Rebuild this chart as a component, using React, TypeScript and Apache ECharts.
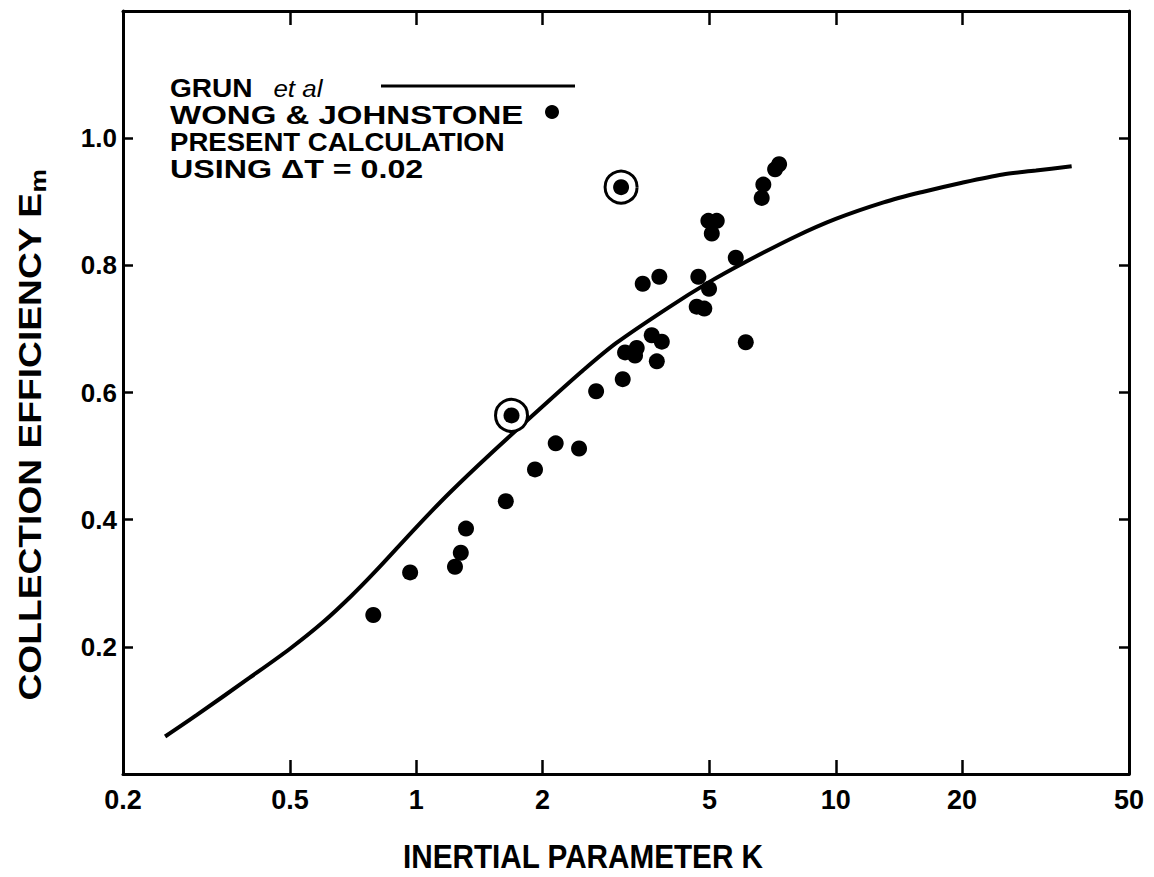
import React, { useEffect, useRef } from "react";
import * as echarts from "echarts";

// Axis tick values
const xTicks = [0.2, 0.5, 1, 2, 5, 10, 20, 50];
const yTicks = [0.2, 0.4, 0.6, 0.8, 1.0];

// GRUN et al curve (inertial parameter K, collection efficiency Em)
const grunK = [0.252, 0.3, 0.4, 0.5, 0.6, 0.7, 0.8, 1.0, 1.2, 1.5, 2.0, 2.5, 3.0, 4.0, 5.0, 6.0, 8.0, 10, 13, 16, 20, 25, 30, 36.5];
const grunE = [0.059, 0.093, 0.151, 0.197, 0.239, 0.28, 0.319, 0.388, 0.442, 0.503, 0.578, 0.635, 0.678, 0.734, 0.774, 0.803, 0.845, 0.873, 0.899, 0.915, 0.93, 0.943, 0.949, 0.956];

// WONG & JOHNSTONE points
const wongK = [0.79, 0.967, 1.237, 1.277, 1.314, 1.635, 1.687, 1.919, 2.15, 2.444, 2.684, 3.106, 3.146, 3.354, 3.323, 3.745, 3.642, 3.849, 3.466, 3.797, 3.078, 4.704, 4.988, 4.662, 4.86, 5.776, 6.102, 4.97, 5.204, 5.064, 6.66, 6.72, 7.168, 7.328];
const wongE = [0.25, 0.317, 0.326, 0.348, 0.386, 0.429, 0.564, 0.479, 0.52, 0.512, 0.602, 0.621, 0.663, 0.67, 0.658, 0.649, 0.69, 0.68, 0.771, 0.782, 0.923, 0.782, 0.763, 0.735, 0.732, 0.812, 0.679, 0.87, 0.87, 0.85, 0.906, 0.927, 0.951, 0.959];

// Present calculation (circled points)
const presentK = [1.687, 3.078];
const presentE = [0.564, 0.923];

const FONT = "'Liberation Sans', Arial, sans-serif";

export default function App() {
  const ref = useRef<HTMLDivElement>(null);
  useEffect(() => {
    if (!ref.current) return;
    const chart = echarts.init(ref.current, undefined, { renderer: "svg" });
    const axisLine = { show: true, onZero: false, lineStyle: { color: "#000", width: 3 } };
    const tickStyle = { color: "#000", width: 2.5 };
    const xBase = {
      type: "log" as const,
      logBase: 10,
      min: 0.2,
      max: 50,
      axisLine,
      splitLine: { show: false },
      minorTick: { show: false },
    };
    const yBase = {
      type: "value" as const,
      min: 0,
      max: 1.2,
      axisLine,
      splitLine: { show: false },
    };
    const legendText = (text: string, y: number, sx: number) => ({
      type: "text",
      x: 170,
      y,
      scaleX: sx,
      style: {
        text,
        fill: "#000",
        font: `bold 26px ${FONT}`,
        lineHeight: 22,
        align: "left",
        verticalAlign: "middle",
      },
    });
    chart.setOption({
      animation: false,
      backgroundColor: "#fff",
      grid: { left: 123, right: 25, top: 11, bottom: 103, containLabel: false },
      xAxis: [
        {
          ...xBase,
          position: "bottom",
          axisTick: { show: true, inside: true, length: 14, customValues: xTicks, lineStyle: tickStyle },
          axisLabel: {
            show: true,
            customValues: xTicks,
            formatter: (v: number) => String(v),
            color: "#000",
            fontSize: 27,
            fontWeight: "bold",
            fontFamily: FONT,
            margin: 12,
          },
        },
        {
          ...xBase,
          position: "top",
          axisTick: { show: true, inside: true, length: 14, customValues: xTicks, lineStyle: tickStyle },
          axisLabel: { show: false },
        },
      ],
      yAxis: [
        {
          ...yBase,
          position: "left",
          axisTick: { show: true, inside: true, length: 10, customValues: yTicks, lineStyle: tickStyle },
          axisLabel: {
            show: true,
            customValues: yTicks,
            formatter: (v: number) => v.toFixed(1),
            color: "#000",
            fontSize: 26,
            fontWeight: "bold",
            fontFamily: FONT,
            margin: 6,
          },
        },
        {
          ...yBase,
          position: "right",
          axisTick: { show: true, inside: true, length: 10, customValues: yTicks, lineStyle: tickStyle },
          axisLabel: { show: false },
        },
      ],
      series: [
        {
          type: "line",
          data: grunK.map((k, i) => [k, grunE[i]]),
          smooth: 0.3,
          showSymbol: false,
          lineStyle: { color: "#000", width: 4 },
          z: 2,
        },
        {
          type: "scatter",
          data: presentK.map((k, i) => [k, presentE[i]]),
          symbol: "circle",
          symbolSize: 32,
          itemStyle: { color: "#fff", borderColor: "#000", borderWidth: 3, opacity: 1 },
          z: 3,
        },
        {
          type: "scatter",
          data: wongK.map((k, i) => [k, wongE[i]]),
          symbol: "circle",
          symbolSize: 16,
          itemStyle: { color: "#000", opacity: 1 },
          z: 4,
        },
      ],
      graphic: [
        {
          type: "text",
          x: 170,
          y: 88,
          scaleX: 1.08,
          style: {
            text: "GRUN {i|et al}",
            fill: "#000",
            font: `bold 26px ${FONT}`,
            lineHeight: 22,
            align: "left",
            verticalAlign: "middle",
            rich: {
              i: { fontStyle: "italic", fontWeight: "normal", fontSize: 24, fontFamily: FONT, fill: "#000", lineHeight: 22, padding: [0, 0, 0, 12] },
            },
          },
        },
        {
          type: "line",
          shape: { x1: 381, y1: 86, x2: 575, y2: 86 },
          style: { stroke: "#000", lineWidth: 3 },
        },
        legendText("WONG & JOHNSTONE", 115, 1.27),
        {
          type: "circle",
          shape: { cx: 552, cy: 112, r: 7 },
          style: { fill: "#000" },
        },
        legendText("PRESENT CALCULATION", 142, 1.06),
        legendText("USING ΔT = 0.02", 169, 1.24),
        {
          type: "text",
          x: 30,
          y: 435,
          rotation: Math.PI / 2,
          scaleX: 1.2,
          style: {
            text: "COLLECTION EFFICIENCY E{m|m}",
            fill: "#000",
            font: `bold 31px ${FONT}`,
            align: "center",
            verticalAlign: "middle",
            rich: { m: { fontSize: 22, fontWeight: "bold", fontFamily: FONT, fill: "#000", padding: [16, 0, 0, 0] } },
          },
        },
        {
          type: "text",
          x: 583,
          y: 857,
          scaleX: 0.9,
          style: {
            text: "INERTIAL PARAMETER K",
            fill: "#000",
            font: `bold 33px ${FONT}`,
            align: "center",
            verticalAlign: "middle",
          },
        },
      ],
    });
    return () => chart.dispose();
  }, []);
  return (
    <div
      ref={ref}
      style={{ position: "absolute", left: 0, top: 0, width: 1154, height: 877, background: "#fff" }}
    />
  );
}
